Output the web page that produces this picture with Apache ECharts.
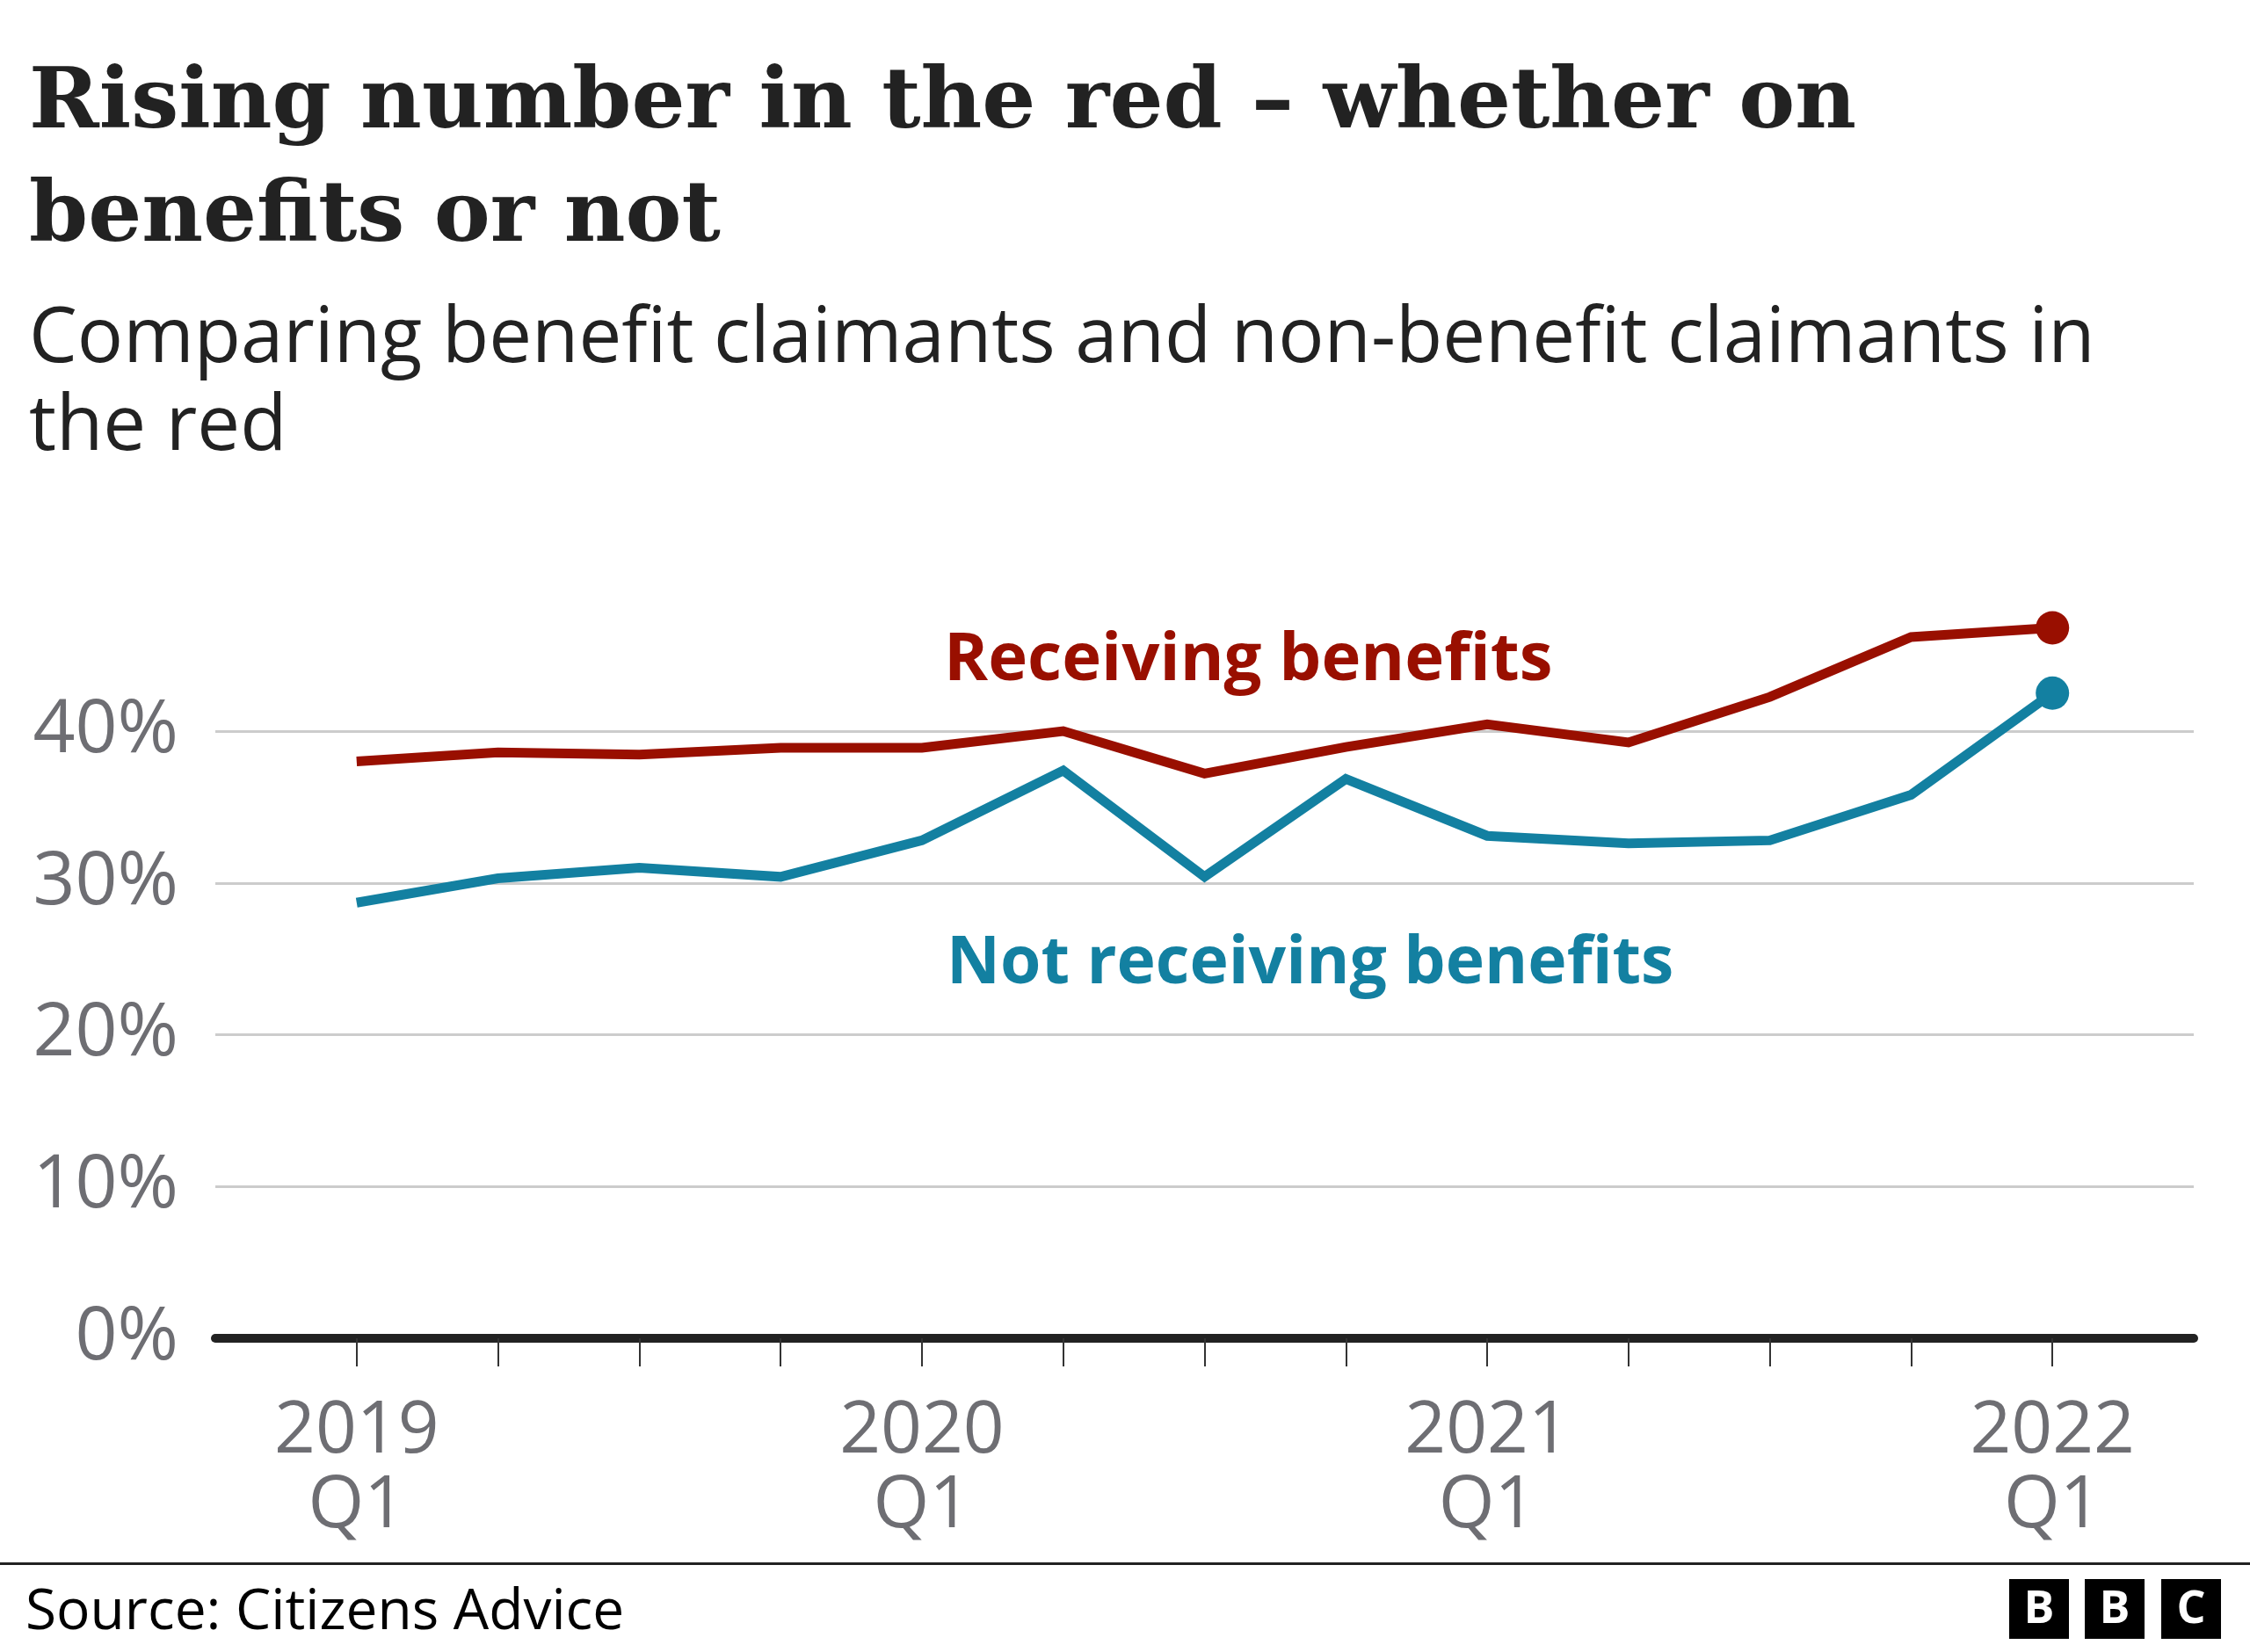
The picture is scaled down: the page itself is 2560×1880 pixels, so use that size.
<!DOCTYPE html>
<html><head><meta charset="utf-8">
<script src="https://cdn.jsdelivr.net/npm/echarts@6/dist/echarts.min.js"></script>
<style>html,body{margin:0;padding:0;background:#fff}#c{width:2560px;height:1880px}</style>
</head><body><div id="c"></div>
<script>
const quarters = ['2019 Q1','2019 Q2','2019 Q3','2019 Q4','2020 Q1','2020 Q2','2020 Q3','2020 Q4','2021 Q1','2021 Q2','2021 Q3','2021 Q4','2022 Q1'];
const receiving = [38.0, 38.6, 38.45, 38.9, 38.9, 40.0, 37.2, 38.95, 40.45, 39.25, 42.25, 46.2, 46.8];
const notReceiving = [28.7, 30.3, 31.0, 30.4, 32.8, 37.4, 30.4, 36.85, 33.1, 32.6, 32.8, 35.8, 42.5];
const yTicks = [0, 10, 20, 30, 40];
const labelledQuarters = ['2019 Q1','2020 Q1','2021 Q1','2022 Q1'];

const RED = '#990f00', TEAL = '#1380a1';
const SANS = '"Open Sans", "Noto Sans", sans-serif';
const SERIF = '"DejaVu Serif", serif';
const last = quarters.length - 1;

function seriesOf(name, vals, color) {
  return {
    name, type: 'line', clip: false, animation: false,
    data: vals.map((v, i) => [i, v]),
    lineStyle: { color, width: 11, join: 'miter' },
    itemStyle: { color },
    symbol: 'circle', showSymbol: true,
    symbolSize: (v, p) => p.dataIndex === last ? 38 : 0,
    emphasis: { disabled: true }, silent: true
  };
}

const chart = echarts.init(document.getElementById('c'));
chart.setOption({
  backgroundColor: '#fff',
  animation: false,
  grid: { left: 245, right: 64, top: 832, bottom: 357, containLabel: false },
  xAxis: {
    type: 'value', min: -1, max: quarters.length,
    axisLine: { show: true, onZero: false, lineStyle: { color: '#222', width: 10 } },
    axisTick: { show: true, length: 32, lineStyle: { color: '#333', width: 2 },
      customValues: quarters.map((q, i) => i) },
    axisLabel: { show: true, margin: 64, fontFamily: SANS, fontSize: 82, lineHeight: 85, color: '#6e6e73',
      customValues: labelledQuarters.map(q => quarters.indexOf(q)),
      formatter: v => quarters[v].replace(' ', '\n') },
    splitLine: { show: false }
  },
  yAxis: {
    type: 'value', min: yTicks[0], max: yTicks[yTicks.length - 1], interval: 10,
    axisLine: { show: false }, axisTick: { show: false },
    axisLabel: { margin: 42, fontFamily: SANS, fontSize: 84, color: '#6e6e73', formatter: '{value}%' },
    splitLine: { show: true, lineStyle: { color: '#cccccc', width: 3 } }
  },
  series: [
    seriesOf('Receiving benefits', receiving, RED),
    seriesOf('Not receiving benefits', notReceiving, TEAL)
  ],
  graphic: [
    { type: 'text', left: 33, top: 72, style: { text: 'Rising number in the red – whether on', fontFamily: SERIF, fontWeight: 'bold', fontSize: 96, fill: '#222' } },
    { type: 'text', left: 33, top: 201, style: { text: 'benefits or not', fontFamily: SERIF, fontWeight: 'bold', fontSize: 96, fill: '#222' } },
    { type: 'text', left: 33, top: 344, style: { text: 'Comparing benefit claimants and non-benefit claimants in', fontFamily: SANS, fontSize: 87, fill: '#222' } },
    { type: 'text', left: 33, top: 444, style: { text: 'the red', fontFamily: SANS, fontSize: 87, fill: '#222' } },
    { type: 'text', left: 1074, top: 714, style: { text: 'Receiving benefits', fontFamily: SANS, fontWeight: 'bold', fontSize: 76, fill: RED } },
    { type: 'text', left: 1077, top: 1060, style: { text: 'Not receiving benefits', fontFamily: SANS, fontWeight: 'bold', fontSize: 75, fill: TEAL } },
    { type: 'rect', left: 0, top: 1778, shape: { width: 2560, height: 3 }, style: { fill: '#222' } },
    { type: 'text', left: 29, top: 1804, style: { text: 'Source: Citizens Advice', fontFamily: SANS, fontSize: 64, fill: '#000' } },
    { type: 'group', left: 2286, top: 1797, children: [
      { type: 'rect', shape: { x: 0, y: 0, width: 68, height: 68 }, style: { fill: '#000' } },
      { type: 'rect', shape: { x: 86, y: 0, width: 68, height: 68 }, style: { fill: '#000' } },
      { type: 'rect', shape: { x: 173, y: 0, width: 68, height: 68 }, style: { fill: '#000' } },
      { type: 'text', x: 34, y: 35, style: { text: 'B', align: 'center', verticalAlign: 'middle', fontFamily: SANS, fontWeight: 'bold', fontSize: 52, fill: '#fff' } },
      { type: 'text', x: 120, y: 35, style: { text: 'B', align: 'center', verticalAlign: 'middle', fontFamily: SANS, fontWeight: 'bold', fontSize: 52, fill: '#fff' } },
      { type: 'text', x: 207, y: 35, style: { text: 'C', align: 'center', verticalAlign: 'middle', fontFamily: SANS, fontWeight: 'bold', fontSize: 52, fill: '#fff' } }
    ] }
  ]
});
</script></body></html>
